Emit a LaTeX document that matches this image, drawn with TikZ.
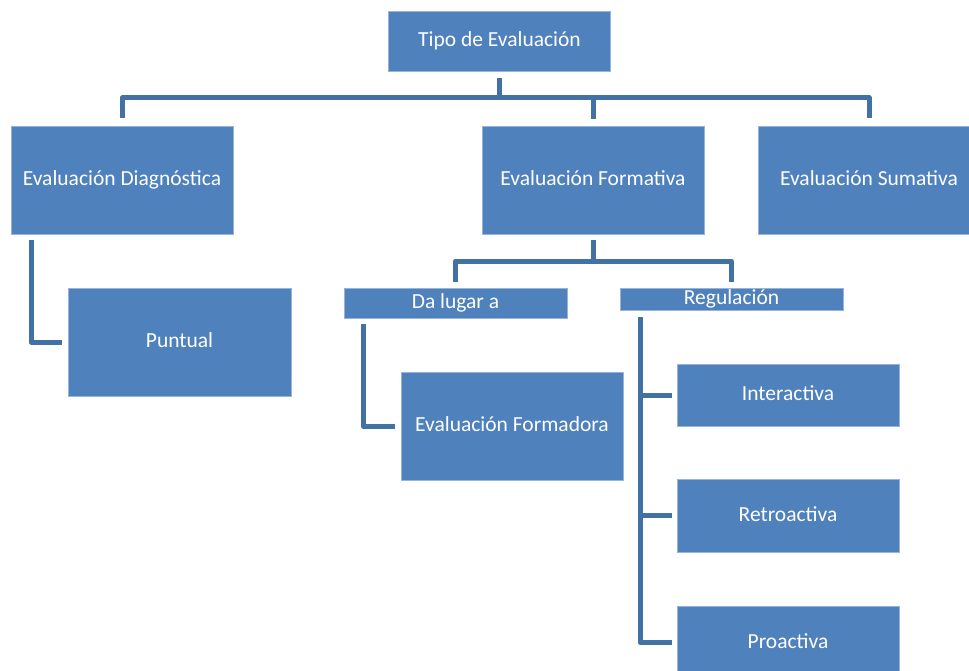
\documentclass[tikz,border=0pt]{standalone}
\usepackage{fontspec}
\setmainfont{Carlito}
\definecolor{boxblue}{RGB}{79,129,189}
\definecolor{linkblue}{RGB}{66,113,166}
\definecolor{boxedge}{RGB}{150,180,215}
\begin{document}
\begin{tikzpicture}[x=1pt,y=-1pt,
  box/.style={rectangle, fill=boxblue, draw=boxedge, line width=0.6pt,
    inner sep=0pt, outer sep=0pt, text=white,
    text height=16pt, text depth=5pt,
    font=\fontsize{21.5}{26}\selectfont},
  conn/.style={draw=linkblue, line width=5pt, line join=round, line cap=butt}]
\clip (0,0) rectangle (969,671);

% boxes: centre and size in pixel units
\node[box, minimum width=222, minimum height=60]  (tipo)  at (499.5,41)  {Tipo de Evaluación};
\node[box, minimum width=222, minimum height=108] (diag)  at (122,180)   {Evaluación Diagnóstica};
\node[box, minimum width=222, minimum height=108] (form)  at (593,180)   {Evaluación Formativa};
\node[box, minimum width=222, minimum height=108] (suma)  at (869,180)   {Evaluación Sumativa};
\node[box, minimum width=223, minimum height=108] (punt)  at (179.5,342) {Puntual};
\node[box, minimum width=223, minimum height=30]  (lugar) at (455.5,303) {Da lugar a};
\node[box, minimum width=223, minimum height=22]  (regu)  at (731.5,299) {Regulación};
\node[box, minimum width=222, minimum height=108] (fdora) at (512,426)   {Evaluación Formadora};
\node[box, minimum width=222, minimum height=62]  (inter) at (788,395)   {Interactiva};
\node[box, minimum width=222, minimum height=73]  (retro) at (788,515.5) {Retroactiva};
\node[box, minimum width=222, minimum height=73]  (proa)  at (788,642.5) {Proactiva};

% first level
\coordinate (bus) at (0,98);
\draw[conn] ([yshift=8pt]diag.north) |- (bus -| suma.north) -- ([yshift=8pt]suma.north);
\draw[conn] ([yshift=-7pt]tipo.south) -- (bus -| tipo.south);
\draw[conn] (bus -| form.north) -- ([yshift=7pt]form.north);

% below Evaluación Formativa
\coordinate (fbus) at (0,261);
\draw[conn] ([yshift=6pt]lugar.north) |- (fbus -| regu.north) -- ([yshift=6pt]regu.north);
\draw[conn] ([yshift=-6pt]form.south) -- (fbus -| form.south);

% side branches
\draw[conn] ([xshift=20pt,yshift=-6pt]diag.south west) |- ([xshift=-6pt]punt.west);
\draw[conn] ([xshift=19pt,yshift=-6pt]lugar.south west) |- ([xshift=-6pt]fdora.west);
\coordinate (trunk) at ([xshift=20pt,yshift=-7pt]regu.south west);
\draw[conn] (trunk) |- ([xshift=-5pt]proa.west);
\draw[conn] ([xshift=-5pt]inter.west) -- (inter.west -| trunk);
\draw[conn] ([xshift=-5pt]retro.west) -- (retro.west -| trunk);
\end{tikzpicture}
\end{document}
